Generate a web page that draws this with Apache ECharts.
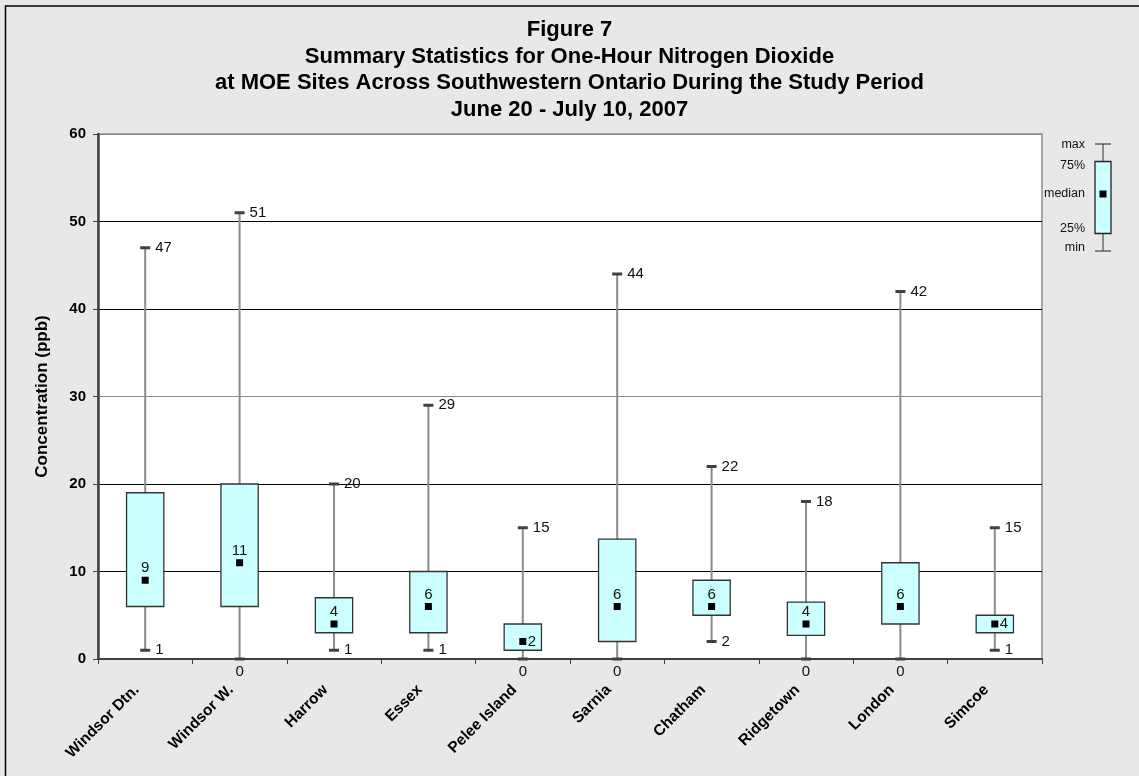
<!DOCTYPE html>
<html>
<head>
<meta charset="utf-8">
<title>Figure 7 - One-Hour Nitrogen Dioxide</title>
<script src="https://cdn.jsdelivr.net/npm/echarts@6/dist/echarts.min.js"></script>
<style>
  html, body { margin: 0; padding: 0; background: #e8e8e8; }
  #chart { width: 1139px; height: 776px; }
</style>
</head>
<body>
<div id="chart"></div>
<script>
// Monitoring sites (MOE stations)
const sites = ['Windsor Dtn.', 'Windsor W.', 'Harrow', 'Essex', 'Pelee Island',
               'Sarnia', 'Chatham', 'Ridgetown', 'London', 'Simcoe'];

// One-hour NO2 summary statistics (ppb)
const minVals    = [1, 0, 1, 1, 0, 0, 2, 0, 0, 1];
const q1Vals     = [6, 6, 3, 3, 1, 2, 5, 2.7, 4, 3];
const medianVals = [9, 11, 4, 6, 2, 6, 6, 4, 6, 4];
const q3Vals     = [19, 20, 7, 10, 4, 13.7, 9, 6.5, 11, 5];
const maxVals    = [47, 51, 20, 29, 15, 44, 22, 18, 42, 15];

// Value-axis ticks
const yTicks = [0, 10, 20, 30, 40, 50, 60];

const boxData = sites.map((s, i) =>
  [i, minVals[i], q1Vals[i], medianVals[i], q3Vals[i], maxVals[i]]);

const FONT = 'Liberation Sans, Arial, sans-serif';
const LABEL_STYLE = { fontFamily: FONT, fontSize: 15, fill: '#111' };

function renderBox(params, api) {
  const idx = api.value(0);
  const vMin = api.value(1), vQ1 = api.value(2), vMed = api.value(3),
        vQ3 = api.value(4), vMax = api.value(5);
  const pMin = api.coord([idx, vMin]);
  const pQ1 = api.coord([idx, vQ1]);
  const pMed = api.coord([idx, vMed]);
  const pQ3 = api.coord([idx, vQ3]);
  const pMax = api.coord([idx, vMax]);
  const cx = pMed[0];
  const bw = api.size([1, 0])[0] * 0.395;
  const capHalf = 5;
  const fmt = v => String(Math.round(v));

  const children = [
    // whisker
    { type: 'line', shape: { x1: cx, y1: pMax[1], x2: cx, y2: pMin[1] },
      style: { stroke: '#8c8c8c', lineWidth: 2 } },
    // interquartile box
    { type: 'rect',
      shape: { x: cx - bw / 2, y: pQ3[1], width: bw, height: pQ1[1] - pQ3[1] },
      style: { fill: '#ccffff', stroke: '#333', lineWidth: 1.3 } },
    // caps
    { type: 'line', shape: { x1: cx - capHalf, y1: pMax[1], x2: cx + capHalf, y2: pMax[1] },
      style: { stroke: '#404040', lineWidth: 3 } },
    { type: 'line', shape: { x1: cx - capHalf, y1: pMin[1], x2: cx + capHalf, y2: pMin[1] },
      style: { stroke: '#404040', lineWidth: 3 } },
    // median marker
    { type: 'rect', shape: { x: cx - 3.5, y: pMed[1] - 3.5, width: 7, height: 7 },
      style: { fill: '#000' } },
    // max label
    { type: 'text', x: cx + 10, y: pMax[1],
      style: Object.assign({ text: fmt(vMax), textAlign: 'left', textVerticalAlign: 'middle' }, LABEL_STYLE) }
  ];

  // min label: beside the cap, or below the axis when the minimum is zero
  if (vMin === 0) {
    children.push({ type: 'text', x: cx, y: pMin[1] + 13,
      style: Object.assign({ text: fmt(vMin), textAlign: 'center', textVerticalAlign: 'middle' }, LABEL_STYLE) });
  } else {
    children.push({ type: 'text', x: cx + 10, y: pMin[1],
      style: Object.assign({ text: fmt(vMin), textAlign: 'left', textVerticalAlign: 'middle' }, LABEL_STYLE) });
  }

  // median label: above the marker, or beside it in short boxes
  if (vQ3 - vQ1 <= 3) {
    children.push({ type: 'text', x: cx + 5, y: pMed[1],
      style: Object.assign({ text: fmt(vMed), textAlign: 'left', textVerticalAlign: 'middle' }, LABEL_STYLE) });
  } else {
    children.push({ type: 'text', x: cx, y: pMed[1] - 12,
      style: Object.assign({ text: fmt(vMed), textAlign: 'center', textVerticalAlign: 'middle' }, LABEL_STYLE) });
  }

  return { type: 'group', children: children };
}

// Key glyph explaining the box elements
const keyX = 1103;
const keyTexts = [
  ['max', 145], ['75%', 166], ['median', 194], ['25%', 229], ['min', 248]
];
const keyGraphics = [
  { type: 'line', shape: { x1: keyX, y1: 144, x2: keyX, y2: 251 },
    style: { stroke: '#8c8c8c', lineWidth: 2 } },
  { type: 'line', shape: { x1: keyX - 8, y1: 144, x2: keyX + 8, y2: 144 },
    style: { stroke: '#404040', lineWidth: 1.2 } },
  { type: 'line', shape: { x1: keyX - 8, y1: 251, x2: keyX + 8, y2: 251 },
    style: { stroke: '#404040', lineWidth: 1.2 } },
  { type: 'rect', shape: { x: keyX - 8, y: 161.5, width: 16, height: 72 },
    style: { fill: '#ccffff', stroke: '#222', lineWidth: 1.3 } },
  { type: 'rect', shape: { x: keyX - 3.5, y: 190.5, width: 7, height: 7 },
    style: { fill: '#000' } }
].concat(keyTexts.map(t => ({
  type: 'text', x: 1085, y: t[1],
  style: { text: t[0], textAlign: 'right', textVerticalAlign: 'middle',
           fontFamily: FONT, fontSize: 12.5, fill: '#111' }
})));

const chart = echarts.init(document.getElementById('chart'), null, { renderer: 'canvas' });

chart.setOption({
  backgroundColor: '#e8e8e8',
  animation: false,
  title: {
    text: 'Figure 7\nSummary Statistics for One-Hour Nitrogen Dioxide\nat MOE Sites Across Southwestern Ontario During the Study Period\nJune 20 - July 10, 2007',
    left: 'center',
    top: 12,
    textStyle: { fontFamily: FONT, fontSize: 22, fontWeight: 'bold', color: '#000', lineHeight: 26.5 }
  },
  grid: {
    left: 98, right: 97, top: 134, bottom: 117,
    show: true, backgroundColor: '#ffffff', borderColor: '#8c8c8c', borderWidth: 1.5
  },
  xAxis: {
    type: 'category',
    data: sites,
    boundaryGap: true,
    axisLine: { lineStyle: { color: '#404040', width: 2 } },
    axisTick: { show: true, interval: 0, length: 5, lineStyle: { color: '#404040', width: 1 } },
    axisLabel: {
      interval: 0, rotate: 45, margin: 20, padding: [0, 12, 0, 0],
      fontFamily: FONT, fontSize: 15.5, fontWeight: 'bold', color: '#000'
    },
    splitLine: { show: false }
  },
  yAxis: {
    type: 'value',
    min: yTicks[0],
    max: yTicks[yTicks.length - 1],
    interval: yTicks[1] - yTicks[0],
    name: 'Concentration (ppb)',
    nameLocation: 'middle',
    nameGap: 47,
    nameTextStyle: { fontFamily: FONT, fontSize: 17, fontWeight: 'bold', color: '#000' },
    axisLine: { show: true, lineStyle: { color: '#404040', width: 2.5 } },
    axisTick: { show: true, length: 5, lineStyle: { color: '#404040', width: 1 } },
    axisLabel: {
      margin: 12, fontFamily: FONT, fontSize: 15, fontWeight: 'bold', color: '#000',
      formatter: v => String(v)
    },
    splitLine: {
      show: true,
      lineStyle: { color: ['#000', '#000', '#000', '#8c8c8c', '#000', '#000', '#8c8c8c'], width: 1 }
    }
  },
  graphic: [
    { type: 'rect', shape: { x: 5.5, y: 6, width: 1200, height: 800 },
      style: { fill: 'none', stroke: '#000', lineWidth: 1.5 }, silent: true }
  ].concat(keyGraphics),
  series: [{
    type: 'custom',
    renderItem: renderBox,
    encode: { x: 0, y: [1, 2, 3, 4, 5] },
    data: boxData,
    clip: false,
    z: 5
  }]
});
</script>
</body>
</html>
